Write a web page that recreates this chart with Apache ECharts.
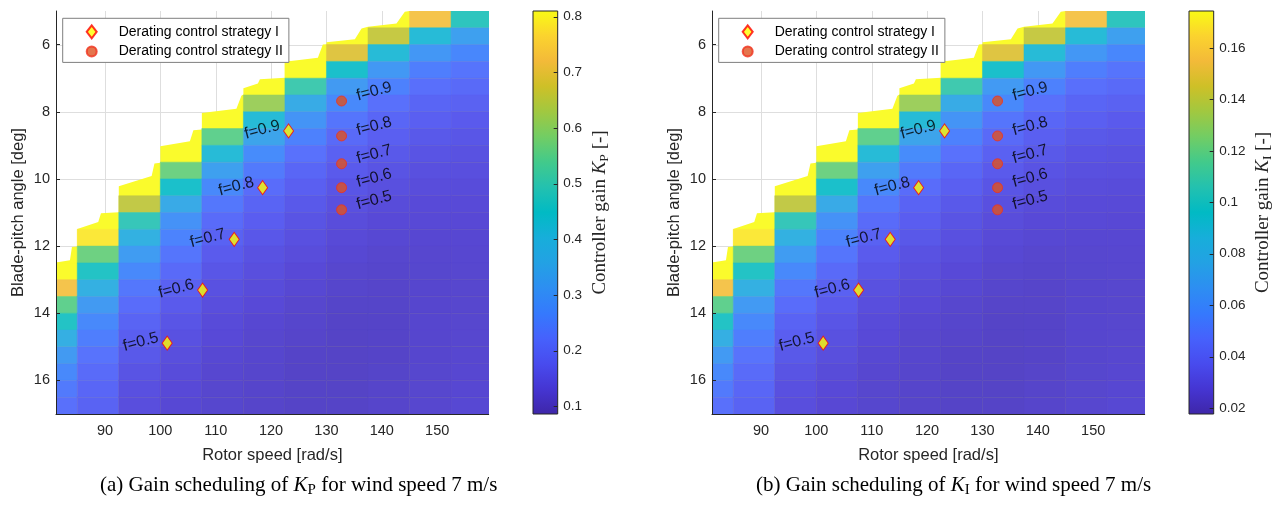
<!DOCTYPE html>
<html><head><meta charset="utf-8">
<script src="https://cdn.jsdelivr.net/npm/echarts@6/dist/echarts.min.js"></script>
<style>html,body{margin:0;padding:0;background:#fff;}#c{width:1278px;height:505px;}</style>
</head><body><div id="c"></div>
<script>
const _ = null;
// grid cell centres
const rotorSpeeds = [81.25, 88.75, 96.25, 103.75, 111.25, 118.75, 126.25, 133.75, 141.25, 148.75, 156.25];
const pitchAngles = [5.25,5.75,6.25,6.75,7.25,7.75,8.25,8.75,9.25,9.75,10.25,10.75,11.25,11.75,12.25,12.75,13.25,13.75,14.25,14.75,15.25,15.75,16.25,16.75];
// K_P per rotor-speed column, rows = pitch angles (top to bottom)
const kpColumns = [
 [_,_,_,_,_,_,_,_,_,_,_,_,_,_,_, 0.81,0.725,0.55,0.46,0.376,0.314,0.274,0.24,0.22],
 [_,_,_,_,_,_,_,_,_,_,_,_,_, 0.785,0.565,0.46,0.38,0.314,0.274,0.25,0.225,0.21,0.198,0.19],
 [_,_,_,_,_,_,_,_,_,_,_, 0.655,0.49,0.383,0.32,0.274,0.235,0.212,0.192,0.178,0.166,0.156,0.148,0.142],
 [_,_,_,_,_,_,_,_,_, 0.565,0.445,0.357,0.296,0.26,0.232,0.205,0.185,0.17,0.158,0.15,0.143,0.137,0.132,0.128],
 [_,_,_,_,_,_,_, 0.55,0.42,0.33,0.274,0.235,0.208,0.188,0.172,0.16,0.15,0.142,0.136,0.131,0.127,0.124,0.122,0.121],
 [_,_,_,_,_, 0.615,0.42,0.34,0.28,0.24,0.212,0.192,0.176,0.163,0.152,0.144,0.137,0.131,0.126,0.122,0.12,0.118,0.117,0.116],
 [_,_,_, 0.81,0.505,0.36,0.3,0.256,0.222,0.198,0.18,0.167,0.156,0.147,0.139,0.132,0.127,0.122,0.118,0.116,0.114,0.113,0.113,0.113],
 [_,_, 0.69,0.445,0.314,0.274,0.232,0.205,0.185,0.17,0.158,0.148,0.14,0.133,0.127,0.122,0.118,0.115,0.113,0.112,0.112,0.112,0.112,0.113],
 [_, 0.66,0.42,0.31,0.256,0.22,0.198,0.18,0.166,0.155,0.146,0.138,0.132,0.127,0.122,0.118,0.116,0.115,0.114,0.114,0.114,0.115,0.116,0.117],
 [0.725,0.42,0.305,0.25,0.218,0.196,0.18,0.166,0.155,0.146,0.14,0.134,0.13,0.126,0.123,0.121,0.12,0.12,0.12,0.12,0.12,0.121,0.122,0.123],
 [0.477,0.33,0.27,0.23,0.205,0.186,0.171,0.16,0.151,0.144,0.138,0.133,0.129,0.126,0.124,0.123,0.122,0.122,0.122,0.123,0.124,0.125,0.126,0.127]
];
// K_I per rotor-speed column
const kiColumns = [
 [_,_,_,_,_,_,_,_,_,_,_,_,_,_,_, 0.1744,0.156,0.1181,0.0986,0.0805,0.067,0.0584,0.051,0.0467],
 [_,_,_,_,_,_,_,_,_,_,_,_,_, 0.169,0.1214,0.0986,0.0813,0.067,0.0584,0.0532,0.0478,0.0445,0.0419,0.0402],
 [_,_,_,_,_,_,_,_,_,_,_, 0.1408,0.1051,0.082,0.0683,0.0584,0.0499,0.045,0.0406,0.0376,0.035,0.0328,0.0311,0.0298],
 [_,_,_,_,_,_,_,_,_, 0.1214,0.0954,0.0763,0.0631,0.0554,0.0493,0.0435,0.0391,0.0359,0.0333,0.0315,0.03,0.0287,0.0277,0.0268],
 [_,_,_,_,_,_,_, 0.1181,0.09,0.0705,0.0584,0.0499,0.0441,0.0398,0.0363,0.0337,0.0315,0.0298,0.0285,0.0274,0.0266,0.0259,0.0255,0.0253],
 [_,_,_,_,_, 0.1322,0.09,0.0727,0.0597,0.051,0.045,0.0406,0.0372,0.0344,0.032,0.0303,0.0287,0.0274,0.0264,0.0255,0.0251,0.0246,0.0244,0.0242],
 [_,_,_, 0.1744,0.1084,0.077,0.064,0.0545,0.0471,0.0419,0.038,0.0352,0.0328,0.0309,0.0292,0.0277,0.0266,0.0255,0.0246,0.0242,0.0238,0.0235,0.0235,0.0235],
 [_,_, 0.1484,0.0954,0.067,0.0584,0.0493,0.0435,0.0391,0.0359,0.0333,0.0311,0.0294,0.0279,0.0266,0.0255,0.0246,0.024,0.0235,0.0233,0.0233,0.0233,0.0233,0.0235],
 [_, 0.1419,0.09,0.0662,0.0545,0.0467,0.0419,0.038,0.035,0.0326,0.0307,0.029,0.0277,0.0266,0.0255,0.0246,0.0242,0.024,0.0238,0.0238,0.0238,0.024,0.0242,0.0244],
 [0.156,0.09,0.0651,0.0532,0.0463,0.0415,0.038,0.035,0.0326,0.0307,0.0294,0.0281,0.0272,0.0264,0.0257,0.0253,0.0251,0.0251,0.0251,0.0251,0.0251,0.0253,0.0255,0.0257],
 [0.1023,0.0705,0.0575,0.0489,0.0435,0.0393,0.0361,0.0337,0.0318,0.0303,0.029,0.0279,0.027,0.0264,0.0259,0.0257,0.0255,0.0255,0.0255,0.0257,0.0259,0.0261,0.0264,0.0266]
];
// upper edge of the feasible region (saturated area)
const boundarySpeed = [81.16,83.68,84.04,85.0, 85.0,88.79,89.28,92.5, 92.5,98.43,98.94,100.0, 100.0,105.34,105.97,107.5, 107.5,113.74,114.64,115.0, 115.0,117.62,117.98,122.5, 122.5,128.45,129.35,130.0, 130.0,135.13,136.34,137.5, 142.65,144.15,145.0];
const boundaryPitch = [12.49,12.42,12.03,12.01, 11.49,11.28,11.02,10.99, 10.22,9.91,9.54,9.52, 9.03,8.88,8.55,8.53, 8.04,7.91,7.52,7.49, 7.30,7.16,7.03,6.99, 6.51,6.39,6.0,5.99, 5.93,5.84,5.52,5.47, 5.37,5.02,5.0];
// operating points
const strategyISpeed = [101.24, 107.63, 113.34, 118.47, 123.16];
const strategyIPitch = [14.89, 13.31, 11.80, 10.26, 8.57];
const strategyIFactor = [0.5, 0.6, 0.7, 0.8, 0.9];
const strategyIISpeed = [132.73, 132.73, 132.73, 132.73, 132.73];
const strategyIIPitch = [10.92, 10.26, 9.55, 8.72, 7.68];
const strategyIIFactor = [0.5, 0.6, 0.7, 0.8, 0.9];
// axes
const xTicks = [90, 100, 110, 120, 130, 140, 150];
const yTicks = [6, 8, 10, 12, 14, 16];
const kpTicks = [0.1, 0.2, 0.3, 0.4, 0.5, 0.6, 0.7, 0.8];
const kiTicks = [0.02, 0.04, 0.06, 0.08, 0.1, 0.12, 0.14, 0.16];
const speedRange = [81.16, 159.3];
const pitchRange = [5, 17];
const kpRange = [0.086, 0.81];
const kiRange = [0.0177, 0.1744];
const nameI = 'Derating control strategy I';
const nameII = 'Derating control strategy II';

const parula = ['#3E26A8','#4535D2','#484BEE','#4661FC','#3579FD','#2D8EF2','#23A1E4','#17AEDA','#01BAC4','#23C1AF','#42CA8B','#72CD64','#A1C840','#CEC027','#F3BA39','#FBD32E','#F9FB15'];

const SANS = 'Liberation Sans', SERIF = 'Liberation Serif', AX = '#262626';
const faded = c => echarts.color.lerp(0.1, [c, '#ffffff']);
const halfSpeed = (rotorSpeeds[1] - rotorSpeeds[0]) / 2;
const halfPitch = (pitchAngles[1] - pitchAngles[0]) / 2;
function rectBetween(a, b) {
  return {x: Math.min(a[0], b[0]), y: Math.min(a[1], b[1]), width: Math.abs(b[0] - a[0]), height: Math.abs(b[1] - a[1])};
}
function cells(columns) {
  const out = [];
  columns.forEach((col, c) => col.forEach((v, r) => { if (v !== null) out.push([rotorSpeeds[c], pitchAngles[r], v]); }));
  return out;
}

const OFF = 656;
const panels = [
  {dx: 0, columns: kpColumns, range: kpRange, ticks: kpTicks, sub: 'P', tag: '(a)'},
  {dx: OFF, columns: kiColumns, range: kiRange, ticks: kiTicks, sub: 'I', tag: '(b)'}
];
const grids = [], xAxes = [], yAxes = [], series = [], visualMaps = [], legends = [], texts = [];

panels.forEach((p, k) => {
  const gMain = k * 2, gCb = k * 2 + 1;
  grids.push({left: 56 + p.dx, top: 11, width: 432.7, height: 403, containLabel: false, outerBoundsMode: 'none'});
  grids.push({left: 533 + p.dx, top: 11, width: 24.7, height: 403, containLabel: false, outerBoundsMode: 'none'});
  xAxes.push({gridIndex: gMain, type: 'value', min: speedRange[0], max: speedRange[1], z: 10,
    axisLine: {show: true, onZero: false, lineStyle: {color: AX, width: 1}},
    axisTick: {show: false},
    axisLabel: {customValues: xTicks, margin: 9, fontSize: 14.5, color: AX, fontFamily: SANS},
    splitLine: {show: false}});
  xAxes.push({gridIndex: gCb, type: 'value', min: 0, max: 1, show: false,
    axisLine: {show: false}, axisTick: {show: false}, axisLabel: {show: false}, splitLine: {show: false}});
  yAxes.push({gridIndex: gMain, type: 'value', inverse: true, min: pitchRange[0], max: pitchRange[1], z: 10,
    axisLine: {show: true, onZero: false, lineStyle: {color: AX, width: 1}},
    axisTick: {show: true, inside: true, length: 4, customValues: yTicks, lineStyle: {color: AX}},
    axisLabel: {customValues: yTicks, margin: 6, fontSize: 14.5, color: AX, fontFamily: SANS},
    splitLine: {show: false}});
  yAxes.push({gridIndex: gCb, type: 'value', min: p.range[0], max: p.range[1], position: 'right', z: 10,
    axisLine: {show: false},
    axisTick: {show: false},
    minorTick: {show: false},
    axisLabel: {customValues: p.ticks, margin: 5.6, fontSize: 13.5, color: AX, fontFamily: SANS,
      formatter: v => String(parseFloat(v.toFixed(3)))},
    splitLine: {show: false}});

  const ax = {xAxisIndex: gMain, yAxisIndex: gMain};
  // grid lines
  series.push({type: 'custom', ...ax, silent: true, clip: true, z: 1, animation: false,
    data: xTicks.map(v => [v, pitchRange[0]]),
    renderItem: (params, api) => {
      const a = api.coord([api.value(0), pitchRange[0]]), b = api.coord([api.value(0), pitchRange[1]]);
      const x = Math.round(a[0]) + 0.5;
      return {type: 'line', shape: {x1: x, y1: a[1], x2: x, y2: b[1]}, style: {stroke: '#dedede', lineWidth: 1}};
    }});
  series.push({type: 'custom', ...ax, silent: true, clip: true, z: 1, animation: false,
    data: yTicks.map(v => [speedRange[0], v]),
    renderItem: (params, api) => {
      const a = api.coord([speedRange[0], api.value(1)]), b = api.coord([speedRange[1], api.value(1)]);
      const y = Math.round(a[1]) + 0.5;
      return {type: 'line', shape: {x1: a[0], y1: y, x2: b[0], y2: y}, style: {stroke: '#dedede', lineWidth: 1}};
    }});
  // saturated region
  series.push({type: 'custom', ...ax, silent: true, clip: true, z: 2, animation: false,
    data: [[boundarySpeed[0], boundaryPitch[0]]],
    renderItem: (params, api) => {
      const pts = boundarySpeed.map((s, i) => api.coord([s, boundaryPitch[i]]));
      pts.push(api.coord([speedRange[1], pitchRange[0]]), api.coord([speedRange[1], pitchRange[1]]), api.coord([speedRange[0], pitchRange[1]]));
      return {type: 'polygon', shape: {points: pts}, style: {fill: faded(parula[parula.length - 1])}};
    }});
  // cells
  const cellIdx = series.length;
  series.push({type: 'custom', ...ax, silent: true, clip: true, z: 3, animation: false,
    dimensions: ['speed', 'pitch', 'gain'], encode: {x: 0, y: 1},
    data: cells(p.columns),
    renderItem: (params, api) => {
      const x = api.value(0), y = api.value(1);
      const a = api.coord([x - halfSpeed, y - halfPitch]), b = api.coord([x + halfSpeed, y + halfPitch]);
      const c = faded(api.visual('color'));
      return {type: 'rect', shape: rectBetween(a, b), style: {fill: c, stroke: c, lineWidth: 0.5}};
    }});
  visualMaps.push({type: 'continuous', show: false, seriesIndex: cellIdx, dimension: 2,
    min: p.range[0], max: p.range[1], inRange: {color: parula}});
  // operating points
  series.push({type: 'scatter', name: nameI, ...ax, z: 6, animation: false, emphasis: {disabled: true},
    symbol: 'diamond', symbolSize: [10, 14],
    itemStyle: {color: '#FFFF00', borderColor: '#FF0000', borderWidth: 1},
    data: strategyISpeed.map((s, i) => [s, strategyIPitch[i], strategyIFactor[i]]),
    label: {show: true, formatter: q => 'f=' + q.value[2], position: 'left', distance: 2, offset: [0, -6],
      rotate: 15, fontSize: 16, color: '#000', fontFamily: SANS}});
  series.push({type: 'scatter', name: nameII, ...ax, z: 6, animation: false, emphasis: {disabled: true},
    symbol: 'circle', symbolSize: 10,
    itemStyle: {color: '#DE5320', borderColor: '#F0321E', borderWidth: 1},
    data: strategyIISpeed.map((s, i) => [s, strategyIIPitch[i], strategyIIFactor[i]]),
    label: {show: true, formatter: q => 'f=' + q.value[2], position: 'right', distance: 11, offset: [0, -5],
      rotate: 15, fontSize: 16, color: '#000', fontFamily: SANS}});
  // colour bar with its ticks (inside, on the right edge)
  series.push({type: 'custom', xAxisIndex: gCb, yAxisIndex: gCb, silent: true, clip: false, z: 3, animation: false,
    data: [[0, p.range[0]]],
    renderItem: (params, api) => {
      const a = api.coord([0, p.range[1]]), b = api.coord([1, p.range[0]]);
      const box = rectBetween(a, b);
      const stops = parula.map((c, i) => ({offset: 1 - i / (parula.length - 1), color: c})).reverse();
      const right = box.x + box.width;
      const children = [{type: 'rect', shape: box,
        style: {fill: new echarts.graphic.LinearGradient(0, 0, 0, 1, stops), stroke: AX, lineWidth: 1}}];
      p.ticks.forEach(v => {
        const y = Math.round(api.coord([1, v])[1]) + 0.5;
        children.push({type: 'line', shape: {x1: right - 4, y1: y, x2: right, y2: y}, style: {stroke: AX, lineWidth: 1}});
      });
      return {type: 'group', children};
    }});

  legends.push({left: 62.7 + p.dx, top: 18.3, orient: 'vertical', data: [nameI, nameII],
    itemWidth: 10, itemHeight: 13, itemGap: 3.6, padding: [5.5, 6, 3, 23],
    backgroundColor: '#fff', borderColor: '#7f7f7f', borderWidth: 1, borderRadius: 0, z: 20,
    selectedMode: false,
    textStyle: {fontSize: 14, fontFamily: SANS, color: '#000', lineHeight: 16, padding: [0, 0, 0, 17]}});

  texts.push({type: 'text', x: 18 + p.dx, y: 212.5, rotation: Math.PI / 2, z: 20,
    style: {text: 'Blade-pitch angle [deg]', fontSize: 16.5, fontFamily: SANS, fill: AX, align: 'center', verticalAlign: 'middle'}});
  texts.push({type: 'text', x: 272.3 + p.dx, y: 455, z: 20,
    style: {text: 'Rotor speed [rad/s]', fontSize: 16.5, fontFamily: SANS, fill: AX, align: 'center', verticalAlign: 'middle'}});
  texts.push({type: 'text', x: (k === 0 ? 600 : 1263), y: 212.5, rotation: Math.PI / 2, z: 20,
    style: {text: '{t|Controller gain }{k|K}{s|' + p.sub + '}{t| [-]}', align: 'center', verticalAlign: 'middle',
      rich: {t: {fontSize: 19, fontFamily: SERIF, fill: AX, lineHeight: 23},
             k: {fontSize: 19, fontFamily: SERIF, fontStyle: 'italic', fill: AX, lineHeight: 23},
             s: {fontSize: 13.5, fontFamily: SERIF, fill: AX, lineHeight: 13.5, verticalAlign: 'bottom'}}}});
  texts.push({type: 'text', x: 100 + p.dx, y: 485, z: 20,
    style: {text: '{t|' + p.tag + ' Gain scheduling of }{k|K}{s|' + p.sub + '}{t| for wind speed 7 m/s}', align: 'left', verticalAlign: 'middle',
      rich: {t: {fontSize: 21, fontFamily: SERIF, fill: '#000', lineHeight: 26},
             k: {fontSize: 21, fontFamily: SERIF, fontStyle: 'italic', fill: '#000', lineHeight: 26},
             s: {fontSize: 15, fontFamily: SERIF, fill: '#000', lineHeight: 15, verticalAlign: 'bottom'}}}});
});

const chart = echarts.init(document.getElementById('c'), null, {renderer: 'canvas', width: 1278, height: 505});
chart.setOption({
  animation: false,
  backgroundColor: '#fff',
  textStyle: {fontFamily: SANS},
  grid: grids, xAxis: xAxes, yAxis: yAxes,
  visualMap: visualMaps, legend: legends,
  graphic: {elements: texts},
  series: series
});
</script></body></html>
